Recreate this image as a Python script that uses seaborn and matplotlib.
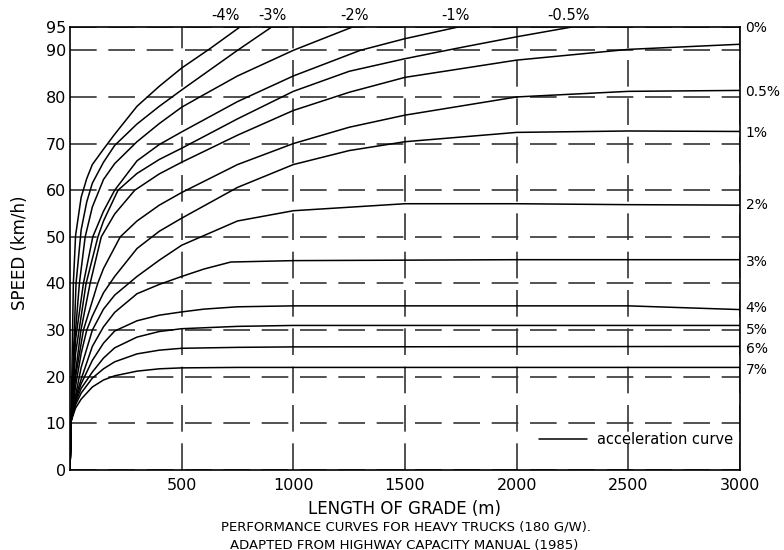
"""
Curvas de desempenho de caminhões pesados (180 G/W), velocidade x comprimento de rampa.
Adaptado do Highway Capacity Manual (1985).
"""

import matplotlib
matplotlib.use("Agg")
import matplotlib.pyplot as plt
from matplotlib.lines import Line2D
import pandas as pd
import seaborn as sns

# Valores: comprimento (m) e velocidade (km/h) de cada rampa
len_m4 = [0, 5, 15, 25, 50, 75, 100, 150, 200, 300, 400, 500, 625, 761]
spd_m4 = [0, 10.5, 40, 50.3, 58.5, 62.5, 65.5, 68.8, 72, 78, 82.3, 86.2, 90.3, 95]

len_m3 = [0, 5, 27, 50, 75, 100, 150, 200, 300, 400, 500, 750, 903]
spd_m3 = [0, 10.5, 40, 51.5, 57.5, 61.5, 66, 69.6, 74.2, 78, 81.5, 90, 95]

len_m2 = [0, 5, 20, 42, 68, 100, 150, 200, 300, 400, 500, 600, 750, 1000, 1265]
spd_m2 = [0, 10.5, 27, 40, 50, 56.4, 62.3, 65.7, 70.4, 74.3, 77.8, 80.5, 84.5, 90, 95]

len_m1 = [0, 5, 25, 60, 102, 150, 200, 300, 400, 500, 750, 1000, 1300, 1500, 1738]
spd_m1 = [0, 10.5, 28, 40, 50, 55.5, 60, 66.3, 69.8, 72.5, 79, 84.5, 90, 92.5, 95]

len_mh = [0, 5, 25, 72, 125, 150, 215, 300, 400, 500, 750, 1000, 1250, 1500, 1750, 2000, 2247]
spd_mh = [0, 10.5, 25, 40, 50, 53.4, 60, 63.6, 66.6, 69, 75.3, 81.2, 85.5, 88.2, 90.6, 92.9, 95]

len_0 = [0, 5, 25, 49, 90, 140, 200, 290, 400, 500, 750, 1000, 1250, 1500, 2000, 2500, 3000]
spd_0 = [0, 10.5, 21, 30, 40, 50, 54.9, 60, 63.5, 66, 71.8, 77.1, 81, 84.2, 87.9, 90.2, 91.3]

len_p05 = [0, 5, 25, 60, 124, 150, 225, 300, 400, 500, 750, 1000, 1250, 1500, 2000, 2500, 3000]
spd_p05 = [0, 10.5, 20, 30, 40, 43.2, 50, 53.4, 56.8, 59.5, 65.5, 70, 73.5, 76.1, 80, 81.2, 81.4]

len_p1 = [0, 5, 25, 50, 75, 100, 150, 200, 300, 400, 500, 750, 1000, 1250, 1500, 2000, 2500, 3000]
spd_p1 = [0, 10.5, 18, 25, 30, 33, 38, 41.5, 47.5, 51.2, 54, 60.6, 65.5, 68.5, 70.4, 72.4, 72.7, 72.6]

len_p2 = [0, 5, 25, 50, 100, 150, 200, 300, 400, 500, 750, 1000, 1500, 2000, 2500, 3000]
spd_p2 = [0, 10.5, 16, 22, 30, 34.5, 37.5, 41.5, 45, 48.2, 53.4, 55.6, 57.1, 57.1, 56.9, 56.8]

len_p3 = [0, 5, 25, 50, 100, 150, 200, 300, 400, 500, 600, 720, 1000, 2000, 3000]
spd_p3 = [0, 10.5, 15.5, 19.5, 26.5, 30.7, 33.8, 37.8, 39.8, 41.5, 43.1, 44.6, 44.9, 45.1, 45.1]

len_p4 = [0, 5, 25, 50, 100, 150, 200, 300, 400, 500, 600, 750, 1000, 2500, 3000]
spd_p4 = [0, 10.5, 15, 18.5, 23.5, 27.2, 29.8, 32, 33.2, 33.9, 34.5, 35, 35.2, 35.2, 34.4]

len_p5 = [0, 5, 25, 50, 100, 150, 200, 300, 400, 500, 750, 1000, 3000]
spd_p5 = [0, 10.5, 14.5, 17.5, 21, 24, 26.2, 28.5, 29.7, 30.3, 30.8, 31, 31]

len_p6 = [0, 5, 25, 50, 100, 150, 200, 300, 400, 500, 750, 1000, 3000]
spd_p6 = [0, 10.5, 14, 16.5, 19.7, 21.7, 23.2, 24.9, 25.7, 26.1, 26.3, 26.4, 26.5]

len_p7 = [0, 5, 25, 50, 100, 150, 200, 300, 400, 500, 750, 3000]
spd_p7 = [0, 10.5, 13.3, 15.2, 17.8, 19.3, 20.2, 21.2, 21.7, 21.9, 22, 22]

grades = ["-4%", "-3%", "-2%", "-1%", "-0.5%", "0%", "0.5%", "1%",
          "2%", "3%", "4%", "5%", "6%", "7%"]

# Rótulos das rampas (topo e lado direito)
top_labels = ["-4%", "-3%", "-2%", "-1%", "-0.5%"]
right_labels = ["0%", "0.5%", "1%", "2%", "3%", "4%", "5%", "6%", "7%"]

y_ticks = [0, 10, 20, 30, 40, 50, 60, 70, 80, 90, 95]
x_ticks = [500, 1000, 1500, 2000, 2500, 3000]


def main():
    series = [
        (len_m4, spd_m4), (len_m3, spd_m3), (len_m2, spd_m2), (len_m1, spd_m1),
        (len_mh, spd_mh), (len_0, spd_0), (len_p05, spd_p05), (len_p1, spd_p1),
        (len_p2, spd_p2), (len_p3, spd_p3), (len_p4, spd_p4), (len_p5, spd_p5),
        (len_p6, spd_p6), (len_p7, spd_p7),
    ]
    frames = []
    for grade, (xs, ys) in zip(grades, series):
        frames.append(pd.DataFrame({"length": xs, "speed": ys, "grade": grade}))
    df = pd.concat(frames, ignore_index=True)

    sns.set_theme(style="white")
    plt.rcParams["font.family"] = ["DejaVu Sans"]
    plt.rcParams["text.color"] = "black"

    fig = plt.figure(figsize=(7.84, 5.5), dpi=100)
    ax = fig.add_axes([70 / 784, 1 - 470 / 550, 670 / 784, 443 / 550])

    sns.lineplot(data=df, x="length", y="speed", units="grade", estimator=None,
                 sort=False, color="black", lw=1.1, ax=ax, legend=False)

    ax.set_xlim(0, 3000)
    ax.set_ylim(0, 95)
    ax.set_xticks(x_ticks)
    ax.set_yticks(y_ticks)
    ax.tick_params(axis="both", length=0, labelsize=11.5, colors="black")
    ax.tick_params(axis="y", pad=3)
    ax.tick_params(axis="x", pad=6)

    # grelha tracejada longa, como no desenho original
    ax.set_axisbelow(True)
    ax.grid(True, linestyle=(0, (16, 7)), color="#333333", lw=1.2)

    for side in ["left", "right", "top", "bottom"]:
        ax.spines[side].set_visible(True)
        ax.spines[side].set_color("black")
        ax.spines[side].set_linewidth(1.2)

    ax.set_xlabel("LENGTH OF GRADE (m)", fontsize=12, color="black")
    ax.set_ylabel("SPEED (km/h)", fontsize=12, color="black")
    ax.xaxis.set_label_coords(0.5, -0.068)
    ax.yaxis.set_label_coords(-0.061, 0.49)

    # rótulos das rampas descendentes (acima do quadro)
    top_x = [698, 904, 1276, 1728, 2230]
    for lab, xx in zip(top_labels, top_x):
        ax.text(xx, 97.4, lab, ha="center", va="center", fontsize=10.5,
                color="black", clip_on=False)

    # rótulos à direita
    right_y = [94.8, 81.1, 72.3, 56.8, 44.6, 34.7, 30.0, 25.9, 21.4]
    for lab, yy in zip(right_labels, right_y):
        ax.text(3025, yy, lab, ha="left", va="center", fontsize=10,
                color="black", clip_on=False)

    handle = Line2D([], [], color="black", lw=1.1)
    leg = ax.legend([handle], ["acceleration curve"], loc="center right",
                    bbox_to_anchor=(0.99, 0.068), frameon=False, fontsize=10.5,
                    handlelength=3.3, handletextpad=0.7, borderpad=0,
                    borderaxespad=0)
    for t in leg.get_texts():
        t.set_color("black")

    fig.text(406 / 784, 1 - 527 / 550,
             "PERFORMANCE CURVES FOR HEAVY TRUCKS (180 G/W).",
             ha="center", va="center", fontsize=9.5, color="black")
    fig.text(404 / 784, 1 - 545 / 550,
             "ADAPTED FROM HIGHWAY CAPACITY MANUAL (1985)",
             ha="center", va="center", fontsize=9.5, color="black")

    fig.savefig("out.png", dpi=100)


if __name__ == "__main__":
    main()
